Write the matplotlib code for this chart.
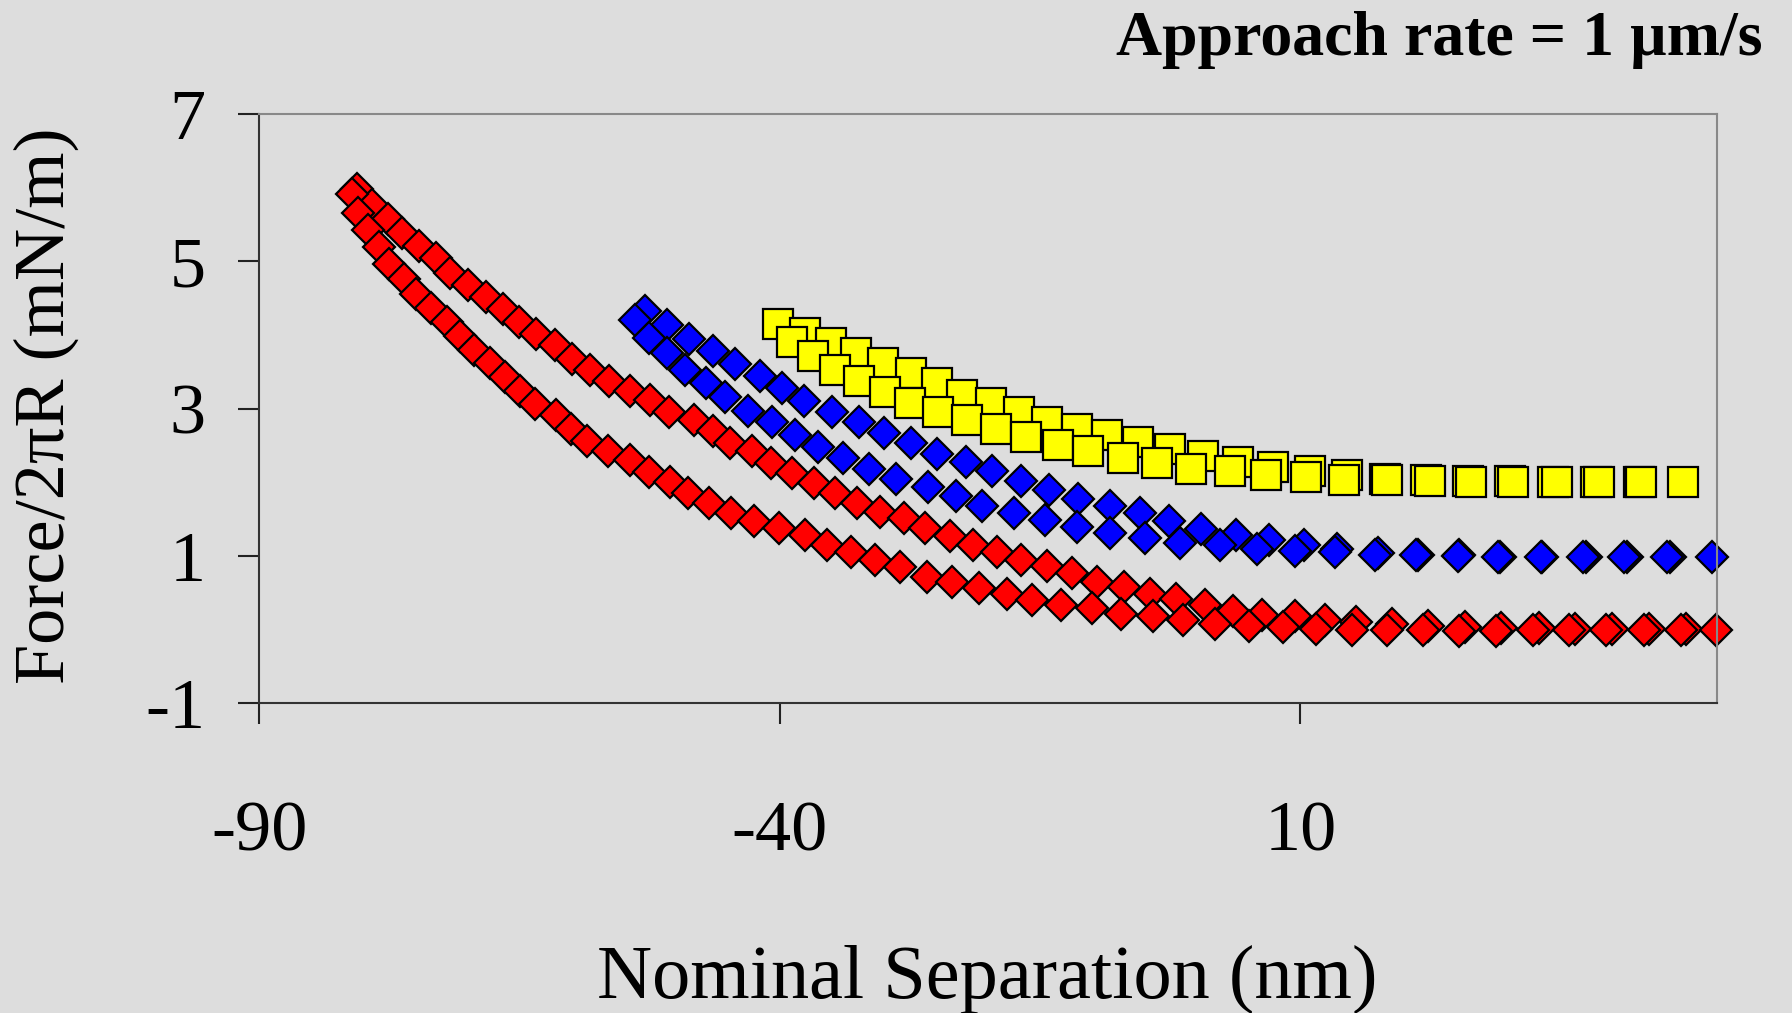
import matplotlib
matplotlib.use("Agg")
import matplotlib.pyplot as plt

plt.rcParams['font.family'] = ['Liberation Serif', 'DejaVu Serif']
plt.rcParams['axes.unicode_minus'] = False

# upper red branch
red1_x = [-80.65, -79.21, -77.70, -76.32, -74.72, -73.02, -71.68, -69.98, -68.25, -66.65,
          -65.11, -63.41, -61.65, -59.98, -58.22, -56.42, -54.37, -52.45, -50.62, -48.28,
          -46.42, -44.75, -42.67, -40.84, -38.82, -36.74, -34.72, -32.57, -30.39, -28.08,
          -26.10, -23.66, -21.42, -19.11, -16.80, -14.30, -11.93, -9.55, -6.93, -4.42,
          -1.92, 0.81, 3.54, 6.36, 9.46, 12.41, 15.37, 18.8, 22.3, 25.8,
          29.3, 32.9, 36.4, 39.9, 43.5, 47.0]
red1_y = [5.98, 5.77, 5.57, 5.38, 5.21, 5.04, 4.84, 4.68, 4.52, 4.35,
          4.18, 4.01, 3.86, 3.68, 3.53, 3.38, 3.24, 3.12, 2.95, 2.85,
          2.69, 2.54, 2.42, 2.26, 2.12, 1.99, 1.85, 1.72, 1.60, 1.51,
          1.38, 1.27, 1.15, 1.06, 0.95, 0.86, 0.77, 0.65, 0.58, 0.49,
          0.41, 0.33, 0.26, 0.20, 0.18, 0.13, 0.11, 0.07, 0.05, 0.03,
          0.02, 0.02, 0.01, 0.01, 0.01, 0.01]

# lower red branch
red2_x = [-81.13, -80.49, -79.59, -78.50, -77.51, -76.16, -74.98, -73.54, -72.00, -70.78,
          -69.43, -67.90, -66.42, -64.95, -63.50, -61.55, -60.07, -58.54, -56.55, -54.37,
          -52.56, -50.56, -48.79, -46.78, -44.67, -42.45, -40.08, -37.63, -35.52, -33.21,
          -30.90, -28.50, -25.90, -23.44, -20.87, -18.21, -15.74, -12.95, -9.98, -7.25,
          -4.20, -1.24, 1.81, 5.04, 8.32, 11.50, 14.92, 18.33, 21.74, 25.25,
          28.80, 32.35, 35.85, 39.35, 42.99, 46.54, 49.96]
red2_y = [5.91, 5.65, 5.43, 5.19, 4.96, 4.76, 4.56, 4.36, 4.18, 3.98,
          3.80, 3.62, 3.43, 3.24, 3.06, 2.91, 2.73, 2.56, 2.42, 2.30,
          2.14, 2.01, 1.86, 1.72, 1.59, 1.48, 1.38, 1.29, 1.15, 1.05,
          0.95, 0.85, 0.72, 0.65, 0.56, 0.49, 0.40, 0.34, 0.29, 0.21,
          0.18, 0.13, 0.08, 0.05, 0.03, 0.01, 0.00, -0.01, -0.01, -0.02,
          -0.02, -0.01, -0.01, -0.01, -0.01, -0.01, -0.01]

# upper blue branch
blue1_x = [-52.99, -50.84, -48.76, -46.42, -44.27, -41.93, -39.78, -37.70, -35.04, -32.41,
           -30.01, -27.44, -24.94, -22.15, -19.59, -16.87, -14.14, -11.34, -8.29, -5.43,
           -2.60, 0.49, 3.77, 6.95, 10.37, 13.55, 17.42, 21.29, 25.25, 29.16,
           33.21, 37.44, 41.40, 45.50, 49.59]
blue1_y = [4.33, 4.14, 3.94, 3.78, 3.61, 3.44, 3.28, 3.10, 2.96, 2.82,
           2.67, 2.54, 2.39, 2.28, 2.15, 2.02, 1.90, 1.78, 1.68, 1.58,
           1.47, 1.36, 1.29, 1.22, 1.15, 1.10, 1.04, 1.02, 1.01, 0.99,
           0.99, 0.99, 0.98, 0.98, 0.98]

# lower blue branch
blue2_x = [-53.88, -52.60, -50.84, -49.08, -47.15, -45.23, -43.05, -40.74, -38.60, -36.35,
           -33.92, -31.45, -28.88, -25.74, -23.12, -20.55, -17.51, -14.56, -11.48, -8.29,
           -4.88, -1.60, 2.27, 5.81, 9.46, 13.32, 17.19, 21.06, 25.16, 29.02,
           33.12, 37.15, 41.10, 45.20]
blue2_y = [4.21, 3.96, 3.75, 3.53, 3.35, 3.16, 2.97, 2.82, 2.64, 2.48,
           2.33, 2.18, 2.04, 1.93, 1.82, 1.68, 1.59, 1.49, 1.40, 1.31,
           1.24, 1.17, 1.15, 1.10, 1.07, 1.05, 1.01, 1.01, 1.00, 0.98,
           0.98, 0.98, 0.98, 0.98]

# upper yellow branch
yellow1_x = [-40.17, -37.63, -35.13, -32.67, -30.07, -27.44, -24.88, -22.54, -19.69, -17.03,
             -14.30, -11.48, -8.61, -5.56, -2.51, 0.67, 3.99, 7.41, 10.96, 14.46,
             18.1, 22.1, 26.1, 30.1, 34.3, 38.4, 42.5]
yellow1_y = [4.15, 4.03, 3.89, 3.75, 3.62, 3.48, 3.35, 3.19, 3.07, 2.95,
             2.82, 2.73, 2.64, 2.55, 2.45, 2.36, 2.28, 2.21, 2.16, 2.10,
             2.05, 2.03, 2.02, 2.02, 2.01, 2.01, 2.01]

# lower yellow branch
yellow2_x = [-38.82, -36.83, -34.72, -32.41, -29.91, -27.51, -24.78, -21.99, -19.27, -16.38,
             -13.32, -10.40, -7.06, -3.74, -0.46, 3.22, 6.73, 10.50, 14.23, 18.33,
             22.42, 26.38, 30.39, 34.62, 38.67, 42.77, 46.77]
yellow2_y = [3.91, 3.71, 3.53, 3.38, 3.23, 3.08, 2.96, 2.85, 2.72, 2.61,
             2.51, 2.42, 2.33, 2.26, 2.18, 2.15, 2.10, 2.07, 2.03, 2.03,
             2.02, 2.01, 2.01, 2.01, 2.01, 2.01, 2.01]

x_ticks = [-90, -40, 10]
y_ticks = [-1, 1, 3, 5, 7]

BG = '#dddddd'

fig = plt.figure(figsize=(17.92, 10.13), dpi=100, facecolor=BG)
ax = fig.add_axes([0.1448, 0.3057, 0.8132, 0.5818])
ax.set_facecolor(BG)

diamond = dict(linestyle='none', marker='D', markersize=16.5,
               markeredgecolor='black', markeredgewidth=1.6, clip_on=False)
square = dict(linestyle='none', marker='s', markersize=22,
              markeredgecolor='black', markeredgewidth=1.6, clip_on=False)

ax.plot(red1_x, red1_y, markerfacecolor='#ff0000', **diamond)
ax.plot(red2_x, red2_y, markerfacecolor='#ff0000', **diamond)
ax.plot(blue1_x, blue1_y, markerfacecolor='#0000ff', **diamond)
ax.plot(blue2_x, blue2_y, markerfacecolor='#0000ff', **diamond)
ax.plot(yellow1_x, yellow1_y, markerfacecolor='#ffff00', **square)
ax.plot(yellow2_x, yellow2_y, markerfacecolor='#ffff00', **square)

ax.set_xlim(-90, 50)
ax.set_ylim(-1, 7)
ax.set_xticks(x_ticks)
ax.set_yticks(y_ticks)

# spines
for side in ['top', 'right']:
    ax.spines[side].set_color('#888888')
    ax.spines[side].set_linewidth(1.5)
for side in ['left', 'bottom']:
    ax.spines[side].set_color('#333333')
    ax.spines[side].set_linewidth(1.5)

ax.tick_params(axis='both', direction='out', length=15, width=1.5,
               color='#222222', labelsize=52, labelcolor='black')
ax.tick_params(axis='x', pad=55)
ax.tick_params(axis='y', pad=24)

fig.text(0.026, 0.599, 'Force/2πR (mN/m)', rotation=90, ha='center', va='center',
         fontsize=52, color='black')
fig.text(0.551, 0.033, 'Nominal Separation (nm)', ha='center', va='center',
         fontsize=55, color='black')
fig.text(0.9833, 0.9457, 'Approach rate = 1 µm/s', ha='right', va='baseline',
         fontsize=46, fontweight='bold', color='black')

fig.savefig('out.png', dpi=100, facecolor=BG)
